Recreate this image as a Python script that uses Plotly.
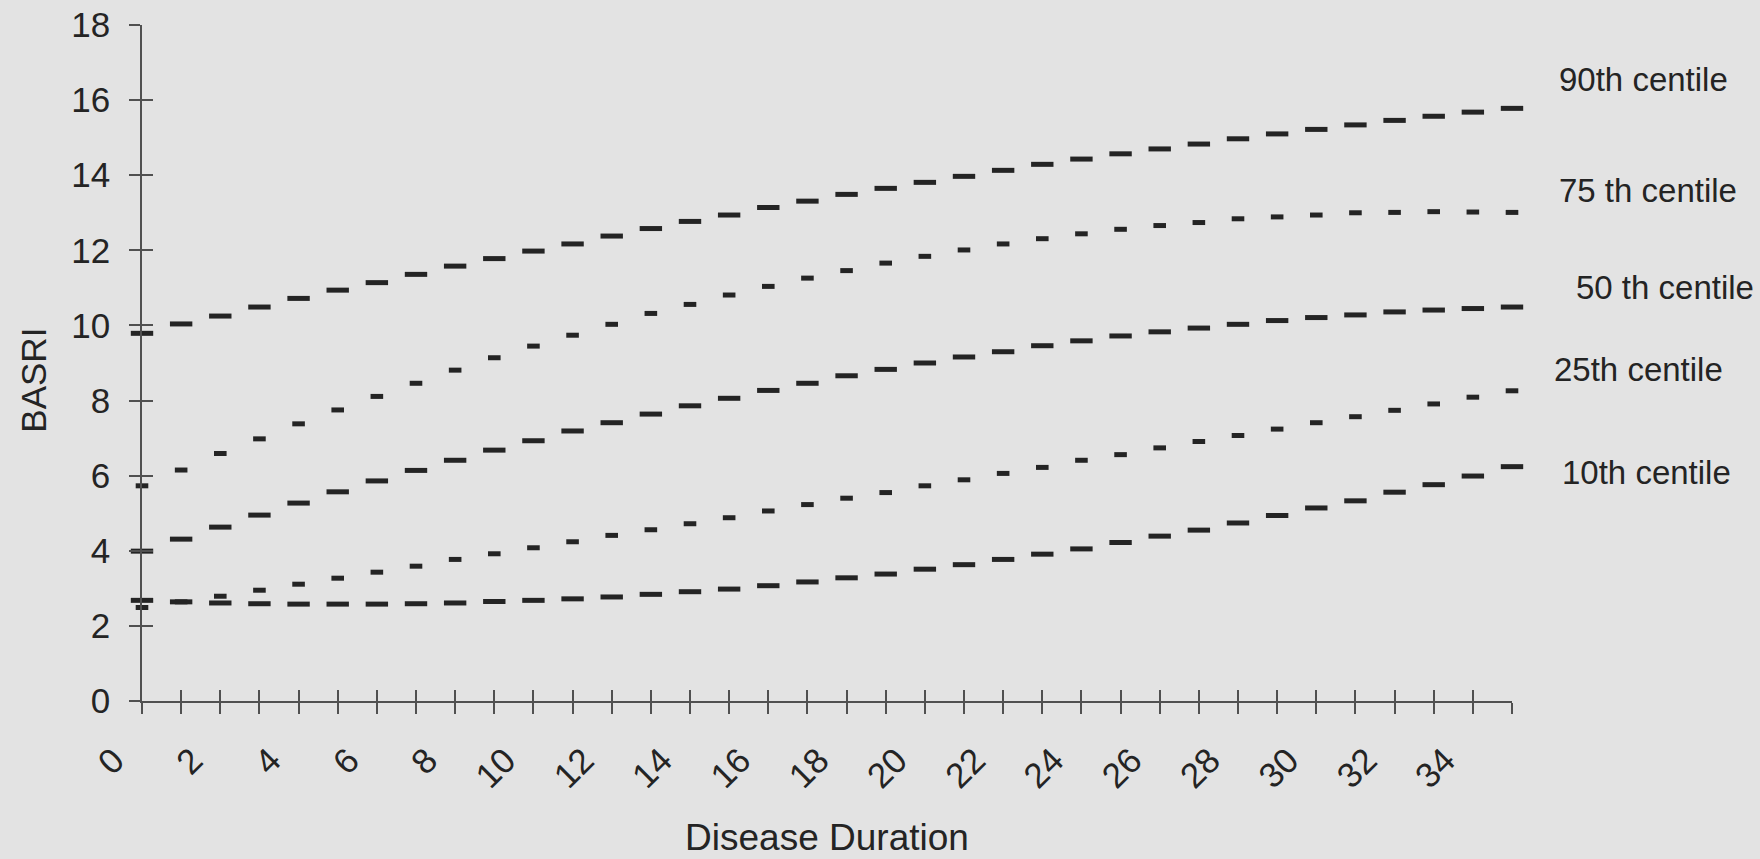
import plotly.graph_objects as go

# ---- data ----
duration = list(range(36))
p90 = [9.79, 10.04, 10.25, 10.49, 10.72, 10.94, 11.14, 11.36, 11.58, 11.78, 11.98, 12.17,
       12.38, 12.58, 12.77, 12.94, 13.14, 13.31, 13.49, 13.65, 13.81, 13.97, 14.13, 14.29,
       14.43, 14.57, 14.70, 14.83, 14.97, 15.10, 15.22, 15.34, 15.46, 15.57, 15.68, 15.78]
p75 = [5.73, 6.15, 6.59, 6.98, 7.38, 7.75, 8.11, 8.46, 8.81, 9.14, 9.45, 9.74,
       10.03, 10.32, 10.56, 10.81, 11.04, 11.26, 11.46, 11.66, 11.84, 12.01, 12.17, 12.31,
       12.44, 12.56, 12.66, 12.74, 12.84, 12.89, 12.94, 13.00, 13.01, 13.03, 13.02, 13.01]
p50 = [3.99, 4.31, 4.63, 4.95, 5.27, 5.57, 5.86, 6.14, 6.41, 6.68, 6.93, 7.19,
       7.41, 7.64, 7.86, 8.06, 8.27, 8.46, 8.66, 8.83, 9.00, 9.16, 9.30, 9.46,
       9.59, 9.72, 9.83, 9.93, 10.03, 10.13, 10.21, 10.28, 10.36, 10.41, 10.45, 10.49]
p25 = [2.49, 2.64, 2.79, 2.95, 3.11, 3.27, 3.43, 3.59, 3.77, 3.92, 4.08, 4.24,
       4.41, 4.56, 4.72, 4.88, 5.06, 5.23, 5.40, 5.55, 5.73, 5.89, 6.06, 6.22,
       6.41, 6.56, 6.74, 6.91, 7.07, 7.24, 7.41, 7.57, 7.74, 7.91, 8.09, 8.26]
p10 = [2.68, 2.64, 2.61, 2.59, 2.58, 2.58, 2.58, 2.59, 2.61, 2.65, 2.68, 2.72,
       2.77, 2.84, 2.91, 2.98, 3.07, 3.17, 3.28, 3.38, 3.51, 3.63, 3.77, 3.91,
       4.05, 4.22, 4.39, 4.55, 4.74, 4.94, 5.14, 5.33, 5.56, 5.76, 5.99, 6.24]
series_names = ["90th centile", "75 th centile", "50 th centile", "25th centile", "10th centile"]
x_tick_labels = [str(v) for v in range(0, 35, 2)]
y_tick_labels = [str(v) for v in range(0, 19, 2)]
x_title = "Disease Duration"
y_title = "BASRI"

# ---- style ----
BG = "#e3e3e3"
INK = "#242424"
AXIS = "#505050"
FONT = "Liberation Sans, Arial, sans-serif"
series_values = [p90, p75, p50, p25, p10]
dash_len = [16, 9, 16, 9, 16]
label_y = [16.56, 13.6, 11.0, 8.83, 6.09]
label_x = [1.033, 1.033, 1.045, 1.029, 1.035]

fig = go.Figure()
for name, vals, dl in zip(series_names, series_values, dash_len):
    fig.add_trace(go.Scatter(
        x=duration, y=vals, mode="markers", name=name, cliponaxis=False,
        marker=dict(symbol="line-ew", size=dl, color=INK,
                    line=dict(color=INK, width=5)),
        showlegend=False))

# overlay axes giving the inside half of the crossing tick marks
fig.add_trace(go.Scatter(x=[], y=[], xaxis="x2", yaxis="y2", showlegend=False,
                         hoverinfo="skip"))

xtickvals = duration
xticktext = [str(v) if str(v) in x_tick_labels else "" for v in duration]

fig.update_layout(
    width=1760, height=859,
    paper_bgcolor=BG, plot_bgcolor=BG,
    margin=dict(l=142, r=248, t=25, b=158, autoexpand=False),
    font=dict(family=FONT, color=INK),
    xaxis=dict(range=[0, 35], tickmode="array", tickvals=xtickvals, ticktext=xticktext,
               ticks="outside", ticklen=11, tickwidth=1.5, tickcolor=AXIS,
               showline=True, linecolor=AXIS, linewidth=1.5, showgrid=False, zeroline=False,
               tickangle=-45, tickfont=dict(size=35, family=FONT, color=INK),
               ticklabelshift=-28, ticklabelstandoff=12,
               title=dict(text=x_title, font=dict(size=37, family=FONT, color=INK),
                          standoff=30)),
    yaxis=dict(range=[0, 18], tickmode="array", tickvals=[int(t) for t in y_tick_labels],
               ticktext=y_tick_labels,
               ticks="outside", ticklen=11, tickwidth=1.5, tickcolor=AXIS,
               showline=True, linecolor=AXIS, linewidth=1.5, showgrid=False, zeroline=False,
               tickfont=dict(size=35, family=FONT, color=INK), ticklabelstandoff=12),
    xaxis2=dict(overlaying="x", range=[0, 35], tickmode="array", tickvals=xtickvals,
                ticks="inside", ticklen=11, tickwidth=1.5, tickcolor=AXIS,
                showticklabels=False, showgrid=False, zeroline=False, showline=False),
    yaxis2=dict(overlaying="y", range=[0, 18], tickmode="array",
                tickvals=[int(t) for t in y_tick_labels],
                ticks="inside", ticklen=11, tickwidth=1.5, tickcolor=AXIS,
                showticklabels=False, showgrid=False, zeroline=False, showline=False),
)

fig.add_annotation(text=y_title, textangle=-90, xref="paper", yref="paper",
                   x=-0.079, y=0.475, xanchor="center", yanchor="middle",
                   showarrow=False, font=dict(size=35, family=FONT, color=INK))

for name, lx, ly in zip(series_names, label_x, label_y):
    fig.add_annotation(text=name, xref="paper", yref="y", x=lx, y=ly,
                       xanchor="left", yanchor="middle", showarrow=False,
                       font=dict(size=33, family=FONT, color=INK))

fig.write_html("out.html", config={"displayModeBar": False},
               post_script="document.body.style.margin='0';"
                           "document.body.style.background='#e3e3e3';")
